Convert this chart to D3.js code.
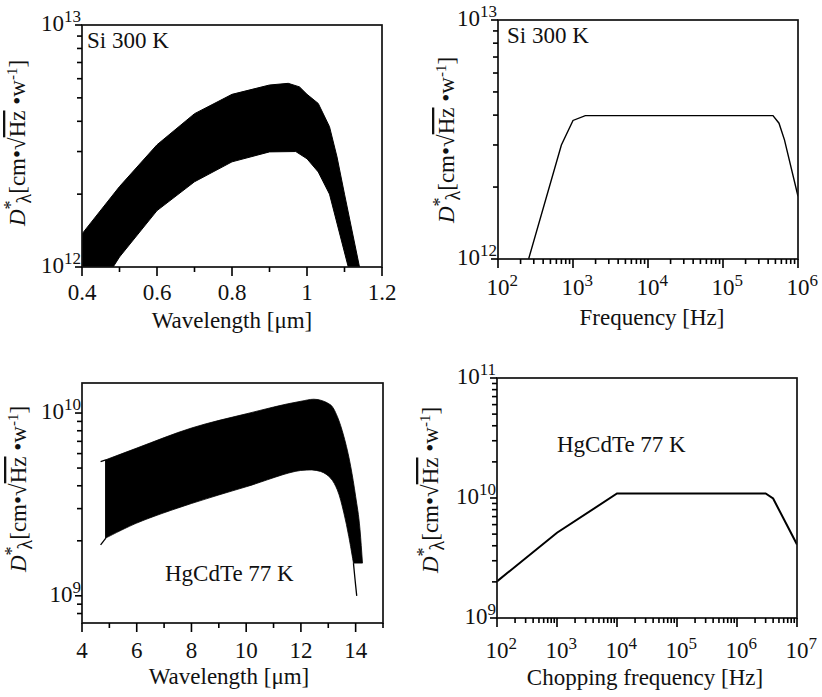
<!DOCTYPE html>
<html><head><meta charset="utf-8">
<script src="https://cdn.jsdelivr.net/npm/d3@7"></script>
<style>body{margin:0;background:#fff}svg{display:block}</style>
</head><body>
<script>
// ---------- DATA ----------
// Panel A: Si 300 K, spectral detectivity band (upper / lower edge)
const siWlUpper = [0.4,0.5,0.6,0.7,0.8,0.9,0.95,0.98,1.0,1.03,1.06,1.08,1.1,1.14];
const siDUpper  = [1.37e12,2.15e12,3.2e12,4.3e12,5.17e12,5.65e12,5.74e12,5.55e12,5.17e12,4.74e12,3.8e12,2.85e12,2.0e12,1.0e12];
const siWlLower = [0.4,0.483,0.5,0.6,0.7,0.8,0.9,0.97,1.0,1.03,1.06,1.11];
const siDLower  = [1.0e12,1.0e12,1.1e12,1.71e12,2.25e12,2.72e12,2.99e12,3.0e12,2.8e12,2.47e12,2.0e12,1.0e12];
// Panel B: Si 300 K, frequency response
const siFreq = [256,700,1000,1460,4.64e5,5.58e5,6.6e5,1e6];
const siDFreq = [1e12,3.0e12,3.8e12,3.98e12,3.98e12,3.7e12,3.15e12,1.83e12];
// Panel C: HgCdTe 77 K, spectral band
const hgWlUpper = [4.87,6,8,10,12,12.47,13.08,13.33,13.57,13.82,14.0,14.16,14.25];
const hgDUpper  = [5.55e9,6.43e9,8.28e9,9.9e9,1.16e10,1.19e10,1.11e10,9.58e9,7.44e9,5.1e9,3.5e9,2.3e9,1.51e9];
const hgWlLower = [4.87,6,8,10,11.99,12.72,13.08,13.33,13.57,13.75,13.92];
const hgDLower  = [2.07e9,2.5e9,3.2e9,3.95e9,4.85e9,4.79e9,4.41e9,3.8e9,2.84e9,2.11e9,1.51e9];
const hgLeadWl = [4.68,4.87];
const hgLeadUpperD = [5.43e9,5.55e9];
const hgLeadLowerD = [1.9e9,2.07e9];
const hgTailWl = [13.92,13.98,14.04];
const hgTailD  = [1.51e9,1.22e9,1.0e9];
// Panel D: HgCdTe 77 K, chopping frequency response
const hgFreq = [1e2,1e3,1e4,3e6,4e6,1e7];
const hgDFreq = [2.02e9,5.13e9,1.09e10,1.09e10,9.9e9,4.1e9];
// Tick labels
const siWlTicks = [0.4,0.6,0.8,1.0,1.2];
const siWlTickLabels = ["0.4","0.6","0.8","1","1.2"];
const siWlMinor = [0.5,0.7,0.9,1.1];
const hgWlTicks = [4,6,8,10,12,14];
const hgWlTickLabels = ["4","6","8","10","12","14"];
const hgWlMinor = [5,7,9,11,13,15];
const siFreqExps = [2,3,4,5,6];
const hgFreqExps = [2,3,4,5,6,7];
const siDExps = [12,13];
const hgDExpsC = [9,10];
const hgDExpsD = [9,10,11];
const texts = {
  wl: "Wavelength [\u03bcm]", freq: "Frequency [Hz]", chop: "Chopping frequency [Hz]",
  si: "Si 300 K", hg: "HgCdTe 77 K"
};

// ---------- DRAW ----------
const svg = d3.select("body").append("svg").attr("width",822).attr("height",697)
  .style("font-family", "Liberation Serif");
const FS = 23, SUP = 17, INK = "#111";

function powLabel(g, x, y, exp, anchor){
  const t = g.append("text").attr("y", y).attr("font-size", FS).attr("fill", INK);
  if (anchor === "end") t.attr("x", x).attr("text-anchor","end");
  else t.attr("x", x - FS/2);
  t.append("tspan").text("10");
  t.append("tspan").attr("font-size", SUP).attr("dy", -9).text(exp);
}

function yLabel(cx, cy){
  const t = svg.append("text").attr("transform", `translate(${cx},${cy}) rotate(-90)`)
    .attr("text-anchor","middle").attr("font-size", 23).attr("fill", INK);
  t.append("tspan").attr("font-style","italic").text("D");
  t.append("tspan").attr("font-size",18).attr("dy",-8).text("*");
  t.append("tspan").attr("font-size",20).attr("dy",14).attr("dx",-3).text("\u03bb");
  t.append("tspan").attr("dy",-6).text("[cm\u2022");
  t.append("tspan").text("\u221a");
  t.append("tspan").attr("text-decoration","overline").text("Hz");
  t.append("tspan").text(" \u2022w");
  t.append("tspan").attr("font-size",15).attr("dy",-8).text("-1");
  t.append("tspan").attr("dy",8).text("]");
}

function tickRects(g, vals, f){
  g.selectAll(null).data(vals).enter().append("rect")
    .attr("x", v => f(v)[0]).attr("y", v => f(v)[1])
    .attr("width", v => f(v)[2]).attr("height", v => f(v)[3])
    .attr("fill", "#000");
}

function makePanel(p){
  const g = svg.append("g");
  const x = p.xLog ? d3.scaleLog().domain(p.xDom).range([p.x0,p.x1]) : d3.scaleLinear().domain(p.xDom).range([p.x0,p.x1]);
  const y = d3.scaleLog().domain(p.yDom).range([p.y1,p.y0]);
  const id = "clip"+p.id;
  svg.append("defs").append("clipPath").attr("id",id).append("rect")
    .attr("x",p.x0).attr("y",p.y0).attr("width",p.x1-p.x0).attr("height",p.y1-p.y0);
  const plot = g.append("g").attr("clip-path",`url(#${id})`);
  g.append("rect").attr("x",p.x0).attr("y",p.y0).attr("width",p.x1-p.x0).attr("height",p.y1-p.y0)
    .attr("fill","none").attr("stroke",INK).attr("stroke-width",1.7);
  if (p.xLog){
    p.xMajor.forEach((v,i)=>powLabel(g, x(v), p.y1+p.xLabDy, p.xExps[i], "mid"));
  } else {
    p.xMajor.forEach((v,i)=>g.append("text").attr("x",x(v)).attr("y",p.y1+p.xLabDy).attr("fill",INK)
      .attr("text-anchor","middle").attr("font-size",FS).text(p.xLabels[i]));
  }
  p.yMajor.forEach((v,i)=>powLabel(g, p.x0-1, y(v)+6, p.yExps[i], "end"));
  g.append("text").attr("x",p.titleX).attr("y",p.titleY).attr("text-anchor","middle").attr("fill",INK)
    .attr("font-size",FS).text(p.title);
  g.append("text").attr("x",p.tagX).attr("y",p.tagY).attr("font-size",FS).attr("fill",INK).text(p.tag);
  yLabel(p.ylX, p.ylY);
  // ticks (outward), drawn on top
  const isMajor = (arr,v) => arr.some(m => Math.abs(m-v)/Math.abs(m) < 1e-6);
  const xMinor = p.xLog ? x.ticks().filter(v=>!isMajor(p.xMajor,v)) : p.xMinor;
  const yMinor = y.ticks().filter(v=>!isMajor(p.yMajor,v));
  const tw = 1.6;
  const tg = svg.append("g");
  tickRects(tg, p.xMajor, v=>[x(v)-tw/2, p.y1, tw, 9]);
  tickRects(tg, xMinor, v=>[x(v)-tw/2, p.y1, tw, 5]);
  tickRects(tg, p.yMajor, v=>[p.x0-7, y(v)-tw/2, 7, tw]);
  tickRects(tg, yMinor, v=>[p.x0-5, y(v)-tw/2, 5, tw]);
  return {x,y,plot};
}

{
  const P = makePanel({id:"A",x0:82,x1:382,y0:25,y1:267,xDom:[0.4,1.2],yDom:[1e12,1e13],
    xMajor:siWlTicks,xMinor:siWlMinor,xLabels:siWlTickLabels,xLabDy:33,
    yMajor:siDExps.map(e=>Math.pow(10,e)),yExps:siDExps,
    title:texts.wl,titleX:232,titleY:328,tag:texts.si,tagX:87,tagY:48,ylX:25,ylY:143});
  const pts = siWlUpper.map((w,i)=>[P.x(w),P.y(siDUpper[i])])
    .concat(siWlLower.map((w,i)=>[P.x(w),P.y(siDLower[i])]).reverse());
  P.plot.append("path").attr("d",d3.line()(pts)+"Z")
    .attr("fill","#000").attr("stroke","#000").attr("stroke-width",1).attr("stroke-linejoin","round");
}
{
  const P = makePanel({id:"B",x0:498,x1:798,y0:20,y1:259,xLog:true,xDom:[1e2,1e6],yDom:[1e12,1e13],
    xMajor:siFreqExps.map(e=>Math.pow(10,e)),xExps:siFreqExps,xLabDy:36,
    yMajor:siDExps.map(e=>Math.pow(10,e)),yExps:siDExps,
    title:texts.freq,titleX:652,titleY:325,tag:texts.si,tagX:507,tagY:43,ylX:454,ylY:140});
  P.plot.append("path").attr("d",d3.line()(siFreq.map((f,i)=>[P.x(f),P.y(siDFreq[i])])))
    .attr("fill","none").attr("stroke","#000").attr("stroke-width",1.4);
}
{
  const P = makePanel({id:"C",x0:82,x1:383,y0:383,y1:623,xDom:[4,15],yDom:[7.1e8,1.46e10],
    xMajor:hgWlTicks,xMinor:hgWlMinor,xLabels:hgWlTickLabels,xLabDy:35,
    yMajor:hgDExpsC.map(e=>Math.pow(10,e)),yExps:hgDExpsC,
    title:texts.wl,titleX:229,titleY:684,tag:texts.hg,tagX:165,tagY:581,ylX:26,ylY:489});
  const up = hgWlUpper.map((w,i)=>[P.x(w),P.y(hgDUpper[i])]);
  const lo = hgWlLower.map((w,i)=>[P.x(w),P.y(hgDLower[i])]);
  const cu = d3.line().curve(d3.curveMonotoneX);
  const lower = d3.line().curve(d3.curveCatmullRom)(lo.slice().reverse());
  P.plot.append("path").attr("d",cu(up)+"L"+lower.slice(1)+"Z")
    .attr("fill","#000").attr("stroke","#000").attr("stroke-width",0.8);
  const thin = [[hgLeadWl,hgLeadUpperD],[hgLeadWl,hgLeadLowerD],[hgTailWl,hgTailD]];
  thin.forEach(([ws,ds])=>P.plot.append("path")
    .attr("d",d3.line().curve(d3.curveCatmullRom)(ws.map((w,i)=>[P.x(w),P.y(ds[i])])))
    .attr("fill","none").attr("stroke","#000").attr("stroke-width",1.3));
  P.plot.append("path").attr("d",d3.line()([[P.x(hgWlUpper[0]),P.y(hgDUpper[0])],[P.x(hgWlLower[0]),P.y(hgDLower[0])]]))
    .attr("stroke","#000").attr("stroke-width",1.3);
}
{
  const P = makePanel({id:"D",x0:497,x1:797,y0:378,y1:618,xLog:true,xDom:[1e2,1e7],yDom:[1e9,1e11],
    xMajor:hgFreqExps.map(e=>Math.pow(10,e)),xExps:hgFreqExps,xLabDy:40,
    yMajor:hgDExpsD.map(e=>Math.pow(10,e)),yExps:hgDExpsD,
    title:texts.chop,titleX:645,titleY:685,tag:texts.hg,tagX:557,tagY:452,ylX:438,ylY:490});
  P.plot.append("path").attr("d",d3.line()(hgFreq.map((f,i)=>[P.x(f),P.y(hgDFreq[i])])))
    .attr("fill","none").attr("stroke","#000").attr("stroke-width",2);
}
</script>
</body></html>
